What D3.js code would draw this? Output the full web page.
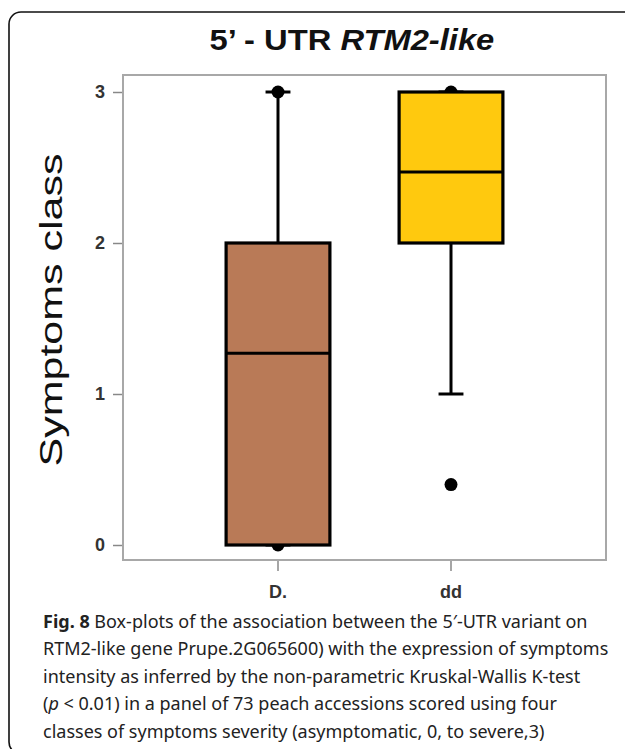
<!DOCTYPE html>
<html>
<head>
<meta charset="utf-8">
<script src="https://cdn.jsdelivr.net/npm/d3@7"></script>
<style>
  html, body { margin: 0; padding: 0; background: #fff; }
  svg { display: block; }
</style>
</head>
<body>
<svg id="chart" width="625" height="749"></svg>
<script>
// ---- data ----
const categories = ["D.", "dd"];
const q1 = [0, 2];
const medians = [1.27, 2.47];
const q3 = [2, 3];
const whiskerLow = [0, 1];
const whiskerHigh = [3, 3];
const points = [[3, 0], [3, 0.4]];
const fills = ["#B97A57", "#FFC90E"];
const yTicks = [0, 1, 2, 3];
const titlePlain = "5\u2019 - UTR ";
const titleItalic = "RTM2-like";
const yLabel = "Symptoms class";
const captionLines = [
  [{t: "Fig. 8", b: true}, {t: " Box-plots of the association between the 5\u2032-UTR variant on"}],
  [{t: "RTM2-like gene Prupe.2G065600) with the expression of symptoms"}],
  [{t: "intensity as inferred by the non-parametric Kruskal-Wallis K-test"}],
  [{t: "("}, {t: "p", i: true}, {t: " < 0.01) in a panel of 73 peach accessions scored using four"}],
  [{t: "classes of symptoms severity (asymptomatic, 0, to severe,3)"}]
];

const svg = d3.select("#chart");

// outer rounded frame
svg.append("rect")
  .attr("x", 9).attr("y", 12).attr("width", 660).attr("height", 742)
  .attr("rx", 12).attr("ry", 12)
  .attr("fill", "none").attr("stroke", "#111").attr("stroke-width", 1.6);

// plot area
const frame = {left: 123, top: 75, right: 606, bottom: 560};
const y = d3.scaleLinear().domain([0, 3]).range([545, 92]);
const x = d3.scaleBand().domain(categories).range([191.5, 537.5]).paddingInner(0).paddingOuter(0);
const boxW = x.bandwidth() * 0.6;
const capW = boxW * 0.24;
const cx = c => x(c) + x.bandwidth() / 2;

// axes
const yAxis = d3.axisLeft(y).tickValues(yTicks).tickFormat(d3.format("d")).tickSize(10).tickPadding(8);
const gy = svg.append("g").attr("transform", `translate(${frame.left},0)`).call(yAxis);
gy.select(".domain").remove();
gy.selectAll(".tick line").attr("stroke", "#888").attr("stroke-width", 1.5);
gy.selectAll(".tick text").attr("font-family", "Liberation Sans, Arial, sans-serif")
  .attr("font-size", 18).attr("font-weight", "bold").attr("fill", "#333");

const xAxis = d3.axisBottom(x).tickSize(11).tickPadding(14);
const gx = svg.append("g").attr("transform", `translate(0,${frame.bottom})`).call(xAxis);
gx.select(".domain").remove();
gx.selectAll(".tick line").attr("stroke", "#888").attr("stroke-width", 1.5);
gx.selectAll(".tick text").attr("font-family", "Liberation Sans, Arial, sans-serif")
  .attr("font-size", 18).attr("font-weight", "bold").attr("fill", "#333");

// plot frame
svg.append("rect")
  .attr("x", frame.left).attr("y", frame.top)
  .attr("width", frame.right - frame.left).attr("height", frame.bottom - frame.top)
  .attr("fill", "none").attr("stroke", "#a8a8a8").attr("stroke-width", 2);

// whiskers
const g = svg.append("g");
categories.forEach((c, i) => {
  const xc = cx(c);
  g.append("line").attr("x1", xc).attr("x2", xc).attr("y1", y(q3[i])).attr("y2", y(whiskerHigh[i]))
    .attr("stroke", "#000").attr("stroke-width", 3);
  g.append("line").attr("x1", xc).attr("x2", xc).attr("y1", y(q1[i])).attr("y2", y(whiskerLow[i]))
    .attr("stroke", "#000").attr("stroke-width", 3);
  [whiskerHigh[i], whiskerLow[i]].forEach(v => {
    g.append("line").attr("x1", xc - capW / 2).attr("x2", xc + capW / 2).attr("y1", y(v)).attr("y2", y(v))
      .attr("stroke", "#000").attr("stroke-width", 3);
  });
  points[i].forEach(v => {
    g.append("circle").attr("cx", xc).attr("cy", y(v)).attr("r", 6.5).attr("fill", "#000");
  });
});
// boxes
categories.forEach((c, i) => {
  const xc = cx(c);
  g.append("rect").attr("x", xc - boxW / 2).attr("y", y(q3[i]))
    .attr("width", boxW).attr("height", y(q1[i]) - y(q3[i]))
    .attr("fill", fills[i]).attr("stroke", "#000").attr("stroke-width", 3.2);
  g.append("line").attr("x1", xc - boxW / 2).attr("x2", xc + boxW / 2)
    .attr("y1", y(medians[i])).attr("y2", y(medians[i]))
    .attr("stroke", "#000").attr("stroke-width", 3);
});

// title
const title = svg.append("text")
  .attr("x", 0).attr("y", 0)
  .attr("font-family", "Liberation Sans, Arial, sans-serif")
  .attr("font-size", 29).attr("font-weight", "bold").attr("fill", "#111");
title.append("tspan").text(titlePlain);
title.append("tspan").attr("font-style", "italic").text(titleItalic);
{
  const w = title.node().getComputedTextLength();
  const targetW = 285, sx = targetW / w;
  title.attr("transform", `translate(${352 - targetW / 2},50) scale(${sx},1)`);
}

// y label (stretched along its length as in the original)
const yl = svg.append("text")
  .attr("font-family", "Liberation Sans, Arial, sans-serif")
  .attr("font-size", 31).attr("fill", "#111")
  .attr("text-anchor", "middle")
  .text(yLabel);
{
  const w = yl.node().getComputedTextLength();
  const sx = 313 / w;
  yl.attr("transform", `translate(62,310) rotate(-90) scale(${sx},1)`);
}

// caption
const cap = svg.append("g").attr("font-family", "Noto Sans, Open Sans, sans-serif").attr("fill", "#222");
const capTexts = captionLines.map((parts, li) => {
  const t = cap.append("text").attr("x", 43).attr("y", 628 + li * 27.4).attr("font-size", 20);
  parts.forEach(p => {
    const s = t.append("tspan").text(p.t);
    if (p.b) s.attr("font-weight", "bold");
    if (p.i) s.attr("font-style", "italic");
  });
  return t;
});
{
  const w = capTexts[0].node().getComputedTextLength();
  const fs = 20 * 545 / w;
  capTexts.forEach(t => t.attr("font-size", fs));
}
</script>
</body>
</html>
